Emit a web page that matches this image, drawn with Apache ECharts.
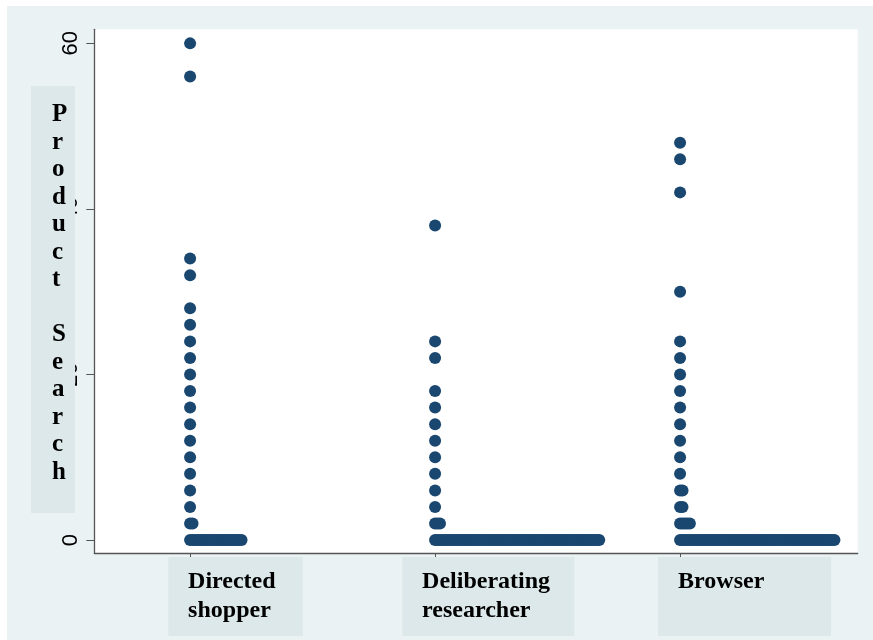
<!DOCTYPE html>
<html>
<head>
<meta charset="utf-8">
<title>Product Search by shopper type</title>
<script src="https://cdn.jsdelivr.net/npm/echarts@6/dist/echarts.min.js"></script>
<style>
  html, body { margin: 0; padding: 0; background: #ffffff; }
  #chart { position: absolute; left: 7px; top: 6px; width: 866px; height: 634px; background: #eaf2f3; }
</style>
</head>
<body>
<div id="chart"></div>
<script>
// Shopper segments on the x axis
const categoryNames = ['Directed\nshopper', 'Deliberating\nresearcher', 'Browser'];
const yTicks = [0, 20, 40, 60];

// Product search counts: each value with how many shoppers share it
const directedValues = [60, 56, 34, 32, 28, 26, 24, 22, 20, 18, 16, 14, 12, 10, 8, 6, 4, 2, 0];
const directedCounts = [1, 1, 1, 1, 1, 1, 1, 1, 1, 1, 1, 1, 1, 1, 1, 1, 1, 2, 22];

const deliberatingValues = [38, 24, 22, 18, 16, 14, 12, 10, 8, 6, 4, 2, 0];
const deliberatingCounts = [1, 1, 1, 1, 1, 1, 1, 1, 1, 1, 1, 3, 68];

const browserValues = [48, 46, 42, 30, 24, 22, 20, 18, 16, 14, 12, 10, 8, 6, 4, 2, 0];
const browserCounts = [1, 1, 1, 1, 1, 1, 1, 1, 1, 1, 1, 1, 1, 2, 2, 5, 64];

// Dot plot layout: identical values are stacked sideways to the right of the category
const DOT_STEP = 0.01;
const DOT_COLOR = '#1a476f';
const BOX_COLOR = '#dde8ea';
const SERIF = '"Liberation Serif", "Times New Roman", serif';

function stackDots(catPos, values, counts) {
  const pts = [];
  values.forEach((v, i) => {
    for (let k = 0; k < counts[i]; k++) pts.push([catPos + k * DOT_STEP, v]);
  });
  return pts;
}

const groups = [
  [directedValues, directedCounts],
  [deliberatingValues, deliberatingCounts],
  [browserValues, browserCounts]
];

const chart = echarts.init(document.getElementById('chart'), null, { renderer: 'canvas' });

chart.setOption({
  animation: false,
  backgroundColor: 'transparent',
  grid: {
    left: 87.3, right: 15.3, top: 23.3, bottom: 86.7,
    show: true, backgroundColor: '#ffffff', borderWidth: 0
  },
  xAxis: {
    type: 'value',
    min: 0.609, max: 3.725,
    axisLine: { show: true, onZero: false, lineStyle: { color: '#555555', width: 1.3 } },
    axisTick: { show: true, customValues: [1, 2, 3], length: 5, lineStyle: { color: '#555555' } },
    axisLabel: { show: false, customValues: [1, 2, 3] },
    splitLine: { show: false }
  },
  yAxis: {
    type: 'value',
    min: -1.6, max: 61.7,
    axisLine: { show: true, onZero: false, lineStyle: { color: '#555555', width: 1.3 } },
    axisTick: { show: true, customValues: yTicks, length: 8, lineStyle: { color: '#555555' } },
    axisLabel: {
      customValues: yTicks,
      rotate: 90,
      margin: 12,
      color: '#000000',
      fontFamily: '"Liberation Sans", Arial, sans-serif',
      fontSize: 22
    },
    splitLine: { show: false }
  },
  series: groups.map((g, i) => ({
    type: 'scatter',
    symbol: 'circle',
    symbolSize: 12,
    itemStyle: { color: DOT_COLOR, opacity: 1 },
    emphasis: { disabled: true },
    data: stackDots(i + 1, g[0], g[1])
  }))
});

// Category labels in shaded boxes, anchored to the axis ticks
const labelBoxDx = [-21.7, -32.7, -22];
const labelBoxW = [134.4, 172, 173];
const labelTextDx = [-2, -13, -2];

const graphics = [];
categoryNames.forEach((name, i) => {
  const px = chart.convertToPixel({ xAxisIndex: 0 }, i + 1);
  graphics.push({
    type: 'rect',
    z: 100,
    shape: { x: px + labelBoxDx[i], y: 551, width: labelBoxW[i], height: 79 },
    style: { fill: BOX_COLOR }
  });
  graphics.push({
    type: 'text',
    z: 101,
    x: px + labelTextDx[i],
    y: 562,
    style: {
      text: name,
      fill: '#000000',
      font: 'bold 24px ' + SERIF,
      lineHeight: 28.5,
      align: 'left',
      verticalAlign: 'top'
    }
  });
});

// Y axis title, written letter by letter in a shaded box
graphics.push({
  type: 'rect',
  z: 100,
  shape: { x: 24, y: 80, width: 44, height: 427 },
  style: { fill: BOX_COLOR }
});
graphics.push({
  type: 'text',
  z: 101,
  x: 45,
  y: 95,
  style: {
    text: 'Product Search'.split('').join('\n'),
    fill: '#000000',
    font: 'bold 25px ' + SERIF,
    lineHeight: 27.5,
    align: 'left',
    verticalAlign: 'top'
  }
});

chart.setOption({ graphic: graphics });
</script>
</body>
</html>
